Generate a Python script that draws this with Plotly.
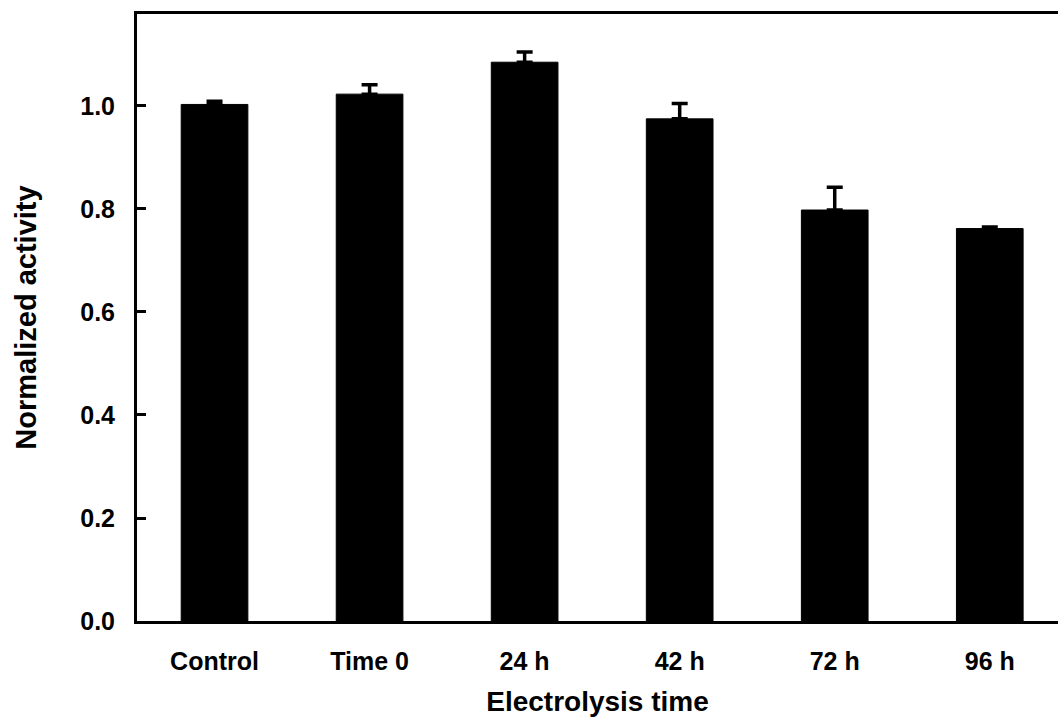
import plotly.graph_objects as go

# Normalized activity after increasing electrolysis times
categories = ["Control", "Time 0", "24 h", "42 h", "72 h", "96 h"]
activity = [1.003, 1.023, 1.085, 0.975, 0.798, 0.762]
activity_err = [0.006, 0.018, 0.020, 0.030, 0.044, 0.003]
y_ticks = [0.0, 0.2, 0.4, 0.6, 0.8, 1.0]

FONT = "Liberation Sans, Arial, sans-serif"

fig = go.Figure(
    go.Bar(
        x=list(range(len(categories))),
        y=activity,
        width=0.43,
        marker=dict(color="black", line=dict(color="black", width=1)),
        error_y=dict(
            type="data",
            array=activity_err,
            symmetric=False,
            arrayminus=[0] * len(activity_err),
            color="black",
            thickness=3.5,
            width=8,
        ),
    )
)

fig.update_layout(
    width=1058,
    height=726,
    margin=dict(l=137, r=0, t=14, b=105),
    paper_bgcolor="white",
    plot_bgcolor="white",
    showlegend=False,
    font=dict(family=FONT, color="black"),
    xaxis=dict(
        range=[-0.5, 5.44],
        tickmode="array",
        tickvals=list(range(len(categories))),
        ticktext=[f"<b>{c}</b>" for c in categories],
        tickfont=dict(size=25, family=FONT),
        ticks="",
        ticklabelstandoff=16,
        showline=True,
        linecolor="black",
        linewidth=3,
        mirror=True,
        showgrid=False,
        zeroline=False,
        title=dict(text="<b>Electrolysis time</b>", font=dict(size=28, family=FONT), standoff=18),
    ),
    yaxis=dict(
        range=[0, 1.1786],
        tickmode="array",
        tickvals=y_ticks,
        ticktext=[f"<b>{v:.1f}</b>" for v in y_ticks],
        tickfont=dict(size=25, family=FONT),
        ticks="inside",
        ticklen=9,
        tickwidth=3,
        tickcolor="black",
        ticklabelstandoff=14,
        showline=True,
        linecolor="black",
        linewidth=3,
        mirror=False,
        showgrid=False,
        zeroline=False,
        title=dict(text="<b>Normalized activity</b>", font=dict(size=29, family=FONT), standoff=36),
    ),
)

fig.write_html("out.html")
